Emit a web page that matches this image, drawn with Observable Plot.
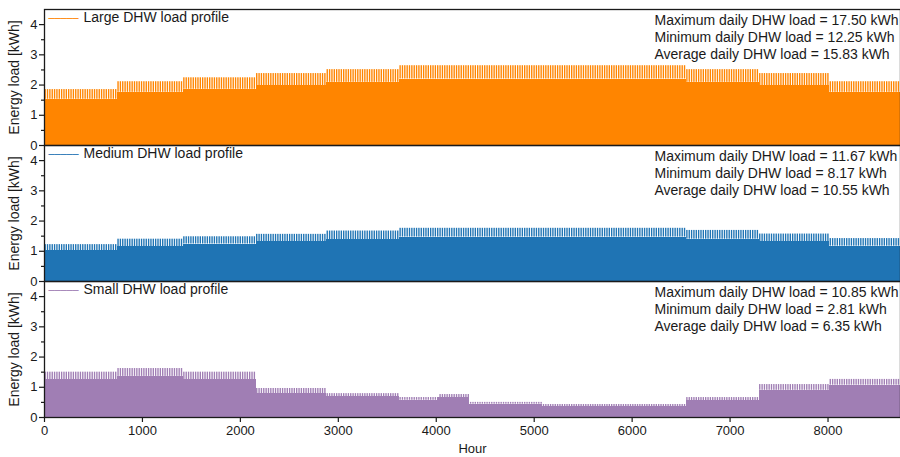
<!DOCTYPE html>
<html>
<head>
<meta charset="utf-8">
<script src="https://cdn.jsdelivr.net/npm/d3@7"></script>
<script src="https://cdn.jsdelivr.net/npm/@observablehq/plot@0.6"></script>
<style>
  html, body { margin: 0; padding: 0; background: #fff; }
  #chart { width: 900px; height: 457px; }
</style>
</head>
<body>
<div id="chart"></div>
<script>
// ---- data ----
const profiles = ["Large", "Medium", "Small"];
const legendLabels = ["Large DHW load profile", "Medium DHW load profile", "Small DHW load profile"];
const colors = ["#ff8500", "#1f74b4", "#a07eb4"];
const maxDaily = ["17.50", "11.67", "10.85"];
const minDaily = ["12.25", "8.17", "2.81"];
const avgDaily = ["15.83", "10.55", "6.35"];

// segment start hours (last value = end of year)
const monthStarts = [0, 744, 1416, 2160, 2880, 3624, 4344, 5088, 5832, 6552, 7296, 8016, 8760];
const largePeak  = [1.85, 2.11, 2.24, 2.38, 2.51, 2.64, 2.64, 2.64, 2.64, 2.51, 2.38, 2.11];
const largeBase  = [1.53, 1.76, 1.86, 1.98, 2.09, 2.20, 2.20, 2.20, 2.20, 2.09, 1.98, 1.76];
const mediumPeak = [1.22, 1.40, 1.48, 1.56, 1.67, 1.76, 1.76, 1.76, 1.76, 1.69, 1.57, 1.42];
const mediumBase = [1.02, 1.15, 1.24, 1.32, 1.39, 1.47, 1.47, 1.47, 1.47, 1.40, 1.31, 1.17];
const smallStarts = [0, 744, 1416, 2160, 2880, 3624, 4010, 4344, 5088, 5832, 6552, 7296, 8016, 8760];
const smallPeak  = [1.50, 1.62, 1.50, 0.96, 0.79, 0.66, 0.76, 0.50, 0.43, 0.43, 0.66, 1.09, 1.26];
const smallBase  = [1.25, 1.36, 1.25, 0.79, 0.68, 0.57, 0.65, 0.44, 0.35, 0.35, 0.55, 0.90, 1.07];

const xTicks = [0, 1000, 2000, 3000, 4000, 5000, 6000, 7000, 8000];
const yTicks = [0, 1, 2, 3, 4];
const yMinorTicks = [0.5, 1.5, 2.5, 3.5];

// ---- build tables ----
const segDefs = [
  {profile: "Large", starts: monthStarts, peak: largePeak, base: largeBase},
  {profile: "Medium", starts: monthStarts, peak: mediumPeak, base: mediumBase},
  {profile: "Small", starts: smallStarts, peak: smallPeak, base: smallBase}
];
const segments = [];
for (const s of segDefs) {
  for (let i = 0; i < s.peak.length; i++) {
    segments.push({profile: s.profile, start: s.starts[i], end: s.starts[i + 1], base: s.base[i], peak: s.peak[i]});
  }
}
// daily peak hours: each day reaches its segment's peak level
const days = [];
for (const s of segDefs) {
  for (let d = 0; d < 365; d++) {
    const h = d * 24;
    const i = s.starts.findIndex((v, k) => h >= v && h < s.starts[k + 1]);
    days.push({profile: s.profile, x1: h + 5, x2: h + 19, base: s.base[i], peak: s.peak[i]});
  }
}
const labels = profiles.map((p, i) => ({
  profile: p,
  legend: legendLabels[i],
  stats: `Maximum daily DHW load = ${maxDaily[i]} kWh\nMinimum daily DHW load = ${minDaily[i]} kWh\nAverage daily DHW load = ${avgDaily[i]} kWh`
}));

const font = "'Liberation Sans', Arimo, Arial, sans-serif";
const ink = "#1a1a1a";

const chart = Plot.plot({
  width: 900,
  height: 457,
  marginTop: 8,
  marginBottom: 40,
  marginLeft: 44,
  marginRight: 0,
  style: {fontFamily: font, fontSize: "13px", color: ink, background: "white"},
  x: {domain: [0, 8740], axis: null},
  y: {domain: [0, 4.5], axis: null},
  fy: {domain: profiles, padding: 0, axis: null, label: null},
  color: {domain: profiles, range: colors},
  marks: [
    Plot.rectY(segments, {x1: "start", x2: "end", y1: 0, y2: "base", fy: "profile", fill: "profile", inset: 0, shapeRendering: "crispEdges"}),
    Plot.rectY(days, {x1: "x1", x2: "x2", y1: "base", y2: "peak", fy: "profile", fill: "profile", inset: 0}),
    Plot.frame({stroke: ink, strokeWidth: 1.3}),
    Plot.axisY({ticks: yTicks, tickFormat: d => String(d), tickSize: 5, tickPadding: 2, label: null, fontSize: 13, stroke: ink, strokeWidth: 1.2}),
    Plot.axisY({ticks: yMinorTicks, tickSize: 3, text: null, label: null, stroke: ink, strokeWidth: 1.2}),
    Plot.axisX({ticks: xTicks, tickFormat: d => String(d), tickSize: 5, tickPadding: 3, label: null, fontSize: 13, stroke: ink, strokeWidth: 1.2}),
    // y axis title in each panel
    Plot.text(labels, {fy: "profile", frameAnchor: "left", text: () => "Energy load [kWh]", rotate: -90, textAnchor: "middle", lineAnchor: "middle", dx: -30, fontSize: 14, fill: ink}),
    // legend swatch and label
    Plot.text(labels, {fy: "profile", frameAnchor: "top-left", text: () => "─────", dx: 4, dy: 5, textAnchor: "start", fontFamily: "DejaVu Sans", fontSize: 10, fill: "profile"}),
    Plot.text(labels, {fy: "profile", frameAnchor: "top-left", text: "legend", dx: 39, dy: 3, textAnchor: "start", fontSize: 14, fill: ink}),
    // statistics
    Plot.text(labels, {fy: "profile", frameAnchor: "top-left", text: "stats", dx: 610, dy: 3, textAnchor: "start", lineHeight: 1.23, fontSize: 14, fill: ink}),
    // x axis title
    Plot.text([{profile: "Small"}], {fy: "profile", frameAnchor: "bottom", text: () => "Hour", dy: 35, fontSize: 13, fill: ink})
  ]
});
document.getElementById("chart").appendChild(chart);
</script>
</body>
</html>
